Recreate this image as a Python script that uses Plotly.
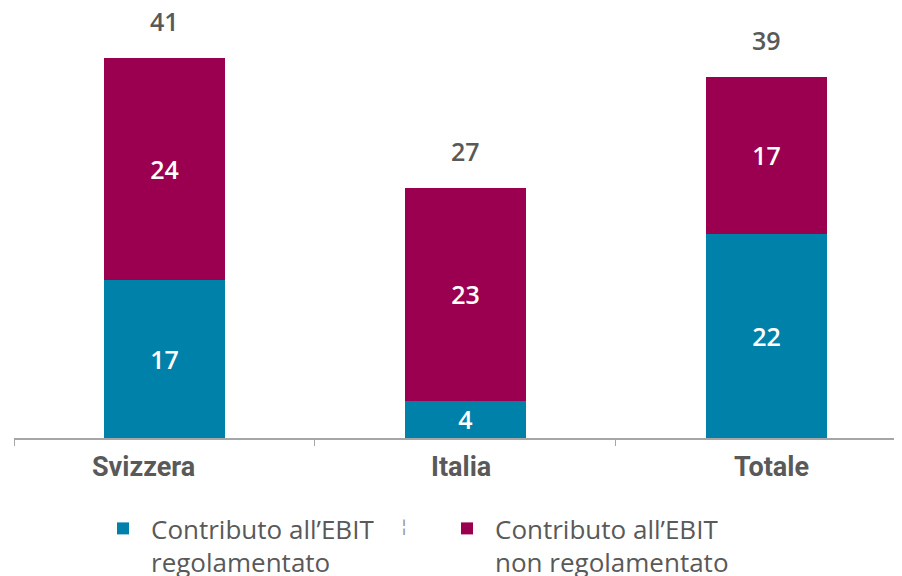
import plotly.graph_objects as go

categories = ["Svizzera", "Italia", "Totale"]
regolamentato = [17, 4, 22]
non_regolamentato = [24, 23, 17]
totali = [41, 27, 39]
series_names = ["Contributo all’EBIT<br>regolamentato", "Contributo all’EBIT<br>non regolamentato"]
label_xshift = [-21, -4, 5]  # category labels sit slightly off-centre in the reference

TEAL = "#0081A9"
MAGENTA = "#9B0050"
GREY = "#595959"
CAT_FONT = "Roboto"
NUMF = "Open Sans"
LEG_FONT = "Open Sans"

fig = go.Figure()
for vals, name, col in [(regolamentato, series_names[0], TEAL),
                        (non_regolamentato, series_names[1], MAGENTA)]:
    fig.add_trace(go.Bar(
        x=categories, y=vals, name=name,
        marker=dict(color=col, line=dict(width=0)),
        text=vals, textposition="inside", insidetextanchor="middle",
        textangle=0, constraintext="none",
        textfont=dict(color="white", size=25, family=NUMF, weight=600),
        width=0.4, hoverinfo="skip", cliponaxis=False,
    ))

for c, t in zip(categories, totali):
    fig.add_annotation(
        x=c, y=t, text=str(t), showarrow=False, yanchor="middle", yshift=37,
        font=dict(color=GREY, size=25, family=NUMF, weight=600),
    )

for c, dx in zip(categories, label_xshift):
    fig.add_annotation(
        x=c, xref="x", y=0, yref="paper", yanchor="middle", yshift=-29, xshift=dx,
        text=c, showarrow=False,
        font=dict(color=GREY, size=27, family=CAT_FONT, weight="bold"),
    )

# small stray mark visible in the reference legend area
fig.add_annotation(
    xref="paper", yref="paper", x=(404 - 14) / 896, y=-(538 - 438) / 430,
    text="¦", showarrow=False, font=dict(size=18, color="#9a9a9a", family="DejaVu Sans"),
)

fig.update_layout(
    width=902, height=576,
    barmode="stack",
    margin=dict(l=6, r=0, t=0, b=146),
    paper_bgcolor="white", plot_bgcolor="white",
    font=dict(family=NUMF, color=GREY),
    uniformtext=dict(minsize=10, mode="show"),
    xaxis=dict(
        type="category", range=[-0.5, 2.477],
        showline=True, linecolor="#A6A6A6", linewidth=2,
        ticks="outside", tickson="boundaries", ticklen=6, tickcolor="#A6A6A6", tickwidth=1,
        showticklabels=False,
        showgrid=False, zeroline=False, fixedrange=True, automargin=False,
    ),
    yaxis=dict(
        range=[0, 46.4], visible=False, showgrid=False, zeroline=False, automargin=False,
    ),
    showlegend=True,
    legend=dict(
        orientation="h", xref="container", yref="container",
        x=87 / 902, xanchor="left", y=1 - 497 / 576, yanchor="top",
        entrywidth=283, entrywidthmode="pixels", valign="top",
        itemwidth=46,
        font=dict(size=26, family=LEG_FONT, color=GREY),
        traceorder="normal",
    ),
)

fig.write_html("out.html")
